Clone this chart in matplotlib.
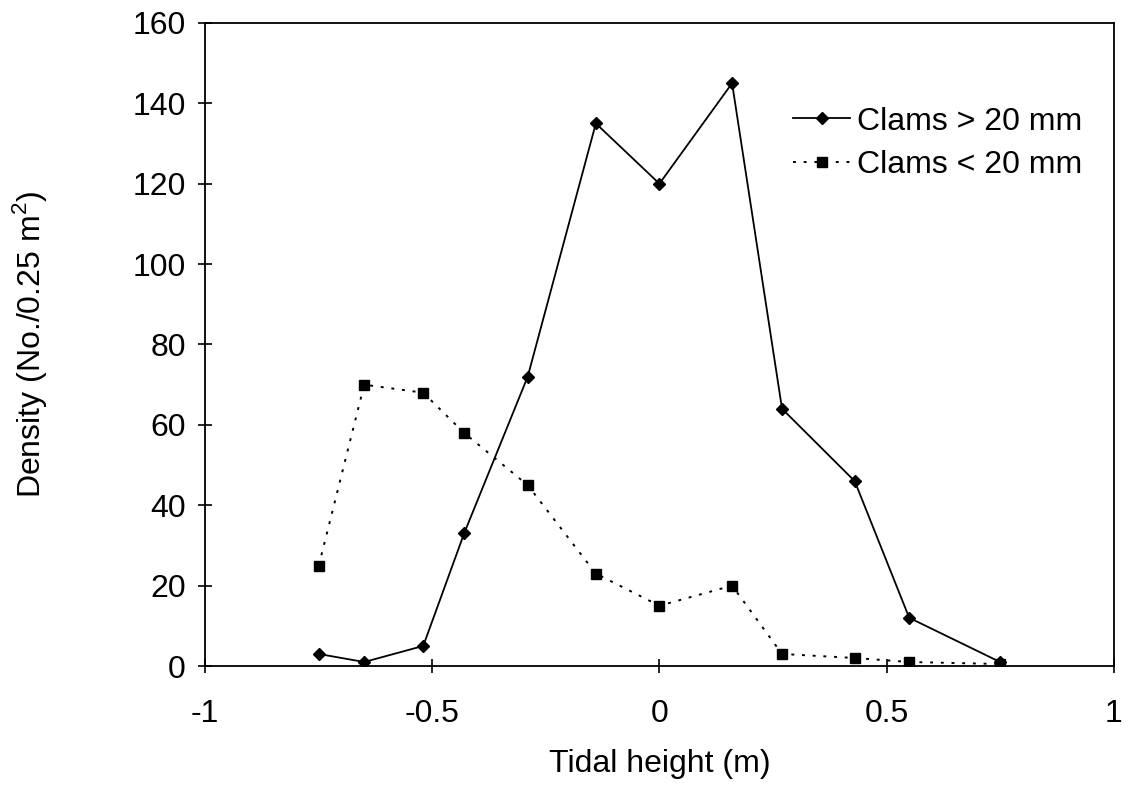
import numpy as np
import matplotlib
matplotlib.use("Agg")
import matplotlib.pyplot as plt

plt.rcParams['font.family'] = ['Liberation Sans', 'DejaVu Sans']
plt.rcParams['mathtext.fontset'] = 'custom'
plt.rcParams['mathtext.rm'] = 'Liberation Sans'

# Data
tidal_height = [-0.75, -0.65, -0.52, -0.43, -0.29, -0.14, 0.0, 0.16, 0.27, 0.43, 0.55, 0.75]
large_clams = [3, 1, 5, 33, 72, 135, 120, 145, 64, 46, 12, 1]
small_clams = [25, 70, 68, 58, 45, 23, 15, 20, 3, 2, 1, 0.5]

x_ticks = [-1, -0.5, 0, 0.5, 1]
x_tick_labels = ["-1", "-0.5", "0", "0.5", "1"]
y_ticks = [0, 20, 40, 60, 80, 100, 120, 140, 160]

fig = plt.figure(figsize=(11.34, 7.91), dpi=100)
ax = fig.add_axes([0.181, 0.158, 0.801, 0.813])

ax.plot(tidal_height, large_clams, color='black', linewidth=1.3,
        marker='D', markersize=6, label='Clams > 20 mm')
ax.plot(tidal_height, small_clams, color='black', linewidth=1.4,
        linestyle=(0, (1.5, 4)), marker='s', markersize=7,
        label='Clams < 20 mm')

ax.set_xlim(-1, 1)
ax.set_ylim(0, 160)
ax.set_xticks(x_ticks)
ax.set_xticklabels(x_tick_labels)
ax.set_yticks(y_ticks)
ax.tick_params(axis='both', direction='inout', length=10, width=1.2,
               labelsize=23, colors='black')
ax.tick_params(axis='x', pad=19)
ax.tick_params(axis='y', pad=9)
for s in ax.spines.values():
    s.set_linewidth(1.3)

ax.set_xlabel("Tidal height (m)", fontsize=23, labelpad=14)
ax.set_ylabel("Density (No./0.25 m$^2$)", fontsize=23, labelpad=60)

leg = ax.legend(loc='upper left', bbox_to_anchor=(0.647, 0.870), frameon=False,
                fontsize=23, handlelength=1.8, handletextpad=0.22,
                labelspacing=0.42, borderpad=0, borderaxespad=0)

fig.savefig("out.png", dpi=100)
